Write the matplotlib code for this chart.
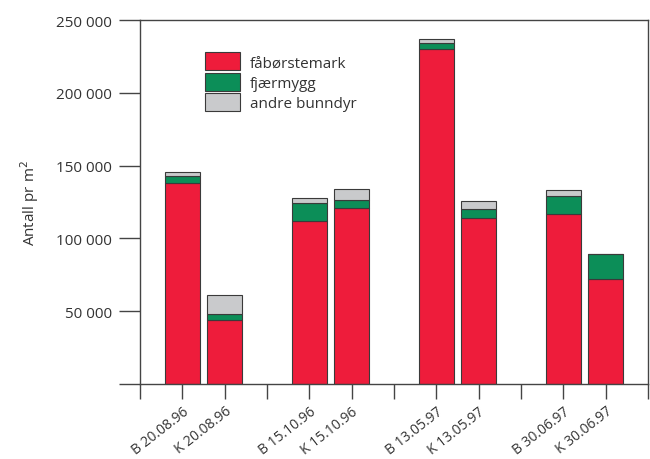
import matplotlib
matplotlib.use("Agg")
import matplotlib.pyplot as plt
import numpy as np
from matplotlib.patches import Patch

plt.rcParams['font.family'] = ['Open Sans', 'DejaVu Sans']

samples = ["B 20.08.96", "K 20.08.96", "B 15.10.96", "K 15.10.96",
           "B 13.05.97", "K 13.05.97", "B 30.06.97", "K 30.06.97"]
positions = [1, 2, 4, 5, 7, 8, 10, 11]
faborstemark = [138000, 44000, 112000, 121000, 230500, 114000, 117000, 72500]
fjaermygg = [5000, 4000, 12500, 5500, 4000, 6500, 12500, 16500]
andre = [3000, 13000, 3500, 7500, 2500, 5000, 3500, 500]
series_names = ["fåbørstemark", "fjærmygg", "andre bunndyr"]
yticks = [0, 50000, 100000, 150000, 200000, 250000]
yticklabels = ["", "50 000", "100 000", "150 000", "200 000", "250 000"]

colors = ["#EE1C3B", "#0C8E58", "#C9CACC"]
edge = "#3a3a3a"

fig = plt.figure(figsize=(6.5, 4.6), dpi=100)
ax = fig.add_axes([0.2154, 0.163, 0.7815, 0.791])

w = 0.82
b1 = np.array(faborstemark)
b2 = b1 + np.array(fjaermygg)
ax.bar(positions, faborstemark, width=w, color=colors[0], edgecolor=edge, linewidth=0.8)
ax.bar(positions, fjaermygg, bottom=b1, width=w, color=colors[1], edgecolor=edge, linewidth=0.8)
ax.bar(positions, andre, bottom=b2, width=w, color=colors[2], edgecolor=edge, linewidth=0.8)

ax.set_xlim(0, 12)
ax.set_ylim(0, 250000)
ax.set_xticks(range(0, 13))
labels = [""] * 13
for p, s in zip(positions, samples):
    labels[p] = s
ax.set_xticklabels(labels, rotation=38, ha='right', rotation_mode='anchor', fontsize=10, color="#333333")
ax.set_yticks(yticks)
ax.set_yticklabels(yticklabels, fontsize=11, color="#333333")
ax.tick_params(axis='x', direction='out', length=11, width=1, color="#444444", pad=3)
ax.tick_params(axis='y', direction='out', length=15, width=1, color="#444444", pad=5)
for s in ax.spines.values():
    s.set_color("#444444")
    s.set_linewidth(1.0)

ax.set_ylabel("Antall pr m$^{2}$", fontsize=11, color="#333333", labelpad=11)

handles = [Patch(facecolor=c, edgecolor=edge, linewidth=0.8) for c in colors]
leg = ax.legend(handles, series_names, loc='upper left', bbox_to_anchor=(0.128, 0.912),
                frameon=False, fontsize=11, handlelength=2.3, handleheight=1.44,
                labelspacing=0.15, handletextpad=0.65, borderaxespad=0, borderpad=0)
for t in leg.get_texts():
    t.set_color("#333333")

fig.savefig("out.png", dpi=100)
